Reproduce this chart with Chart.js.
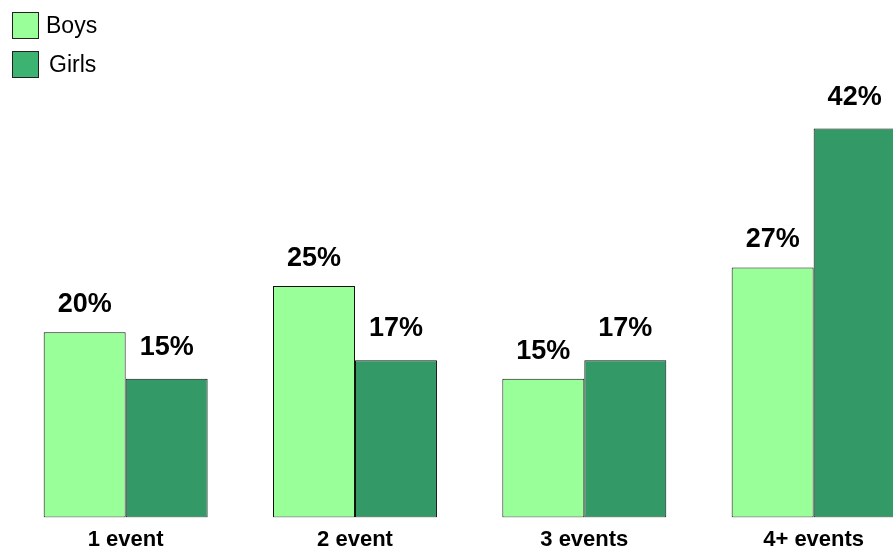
<!DOCTYPE html>
<html>
<head>
<meta charset="utf-8">
<script src="https://cdn.jsdelivr.net/npm/chart.js@4"></script>
<style>
  html, body { margin: 0; padding: 0; background: #fff; overflow: hidden; }
  #wrap { position: relative; width: 893px; height: 553px; overflow: hidden; }
  #box { position: absolute; left: 0; top: 0; width: 940px; height: 553px; }
  #legend { position: absolute; left: 12px; top: 12px; font-family: Arial, "Liberation Sans", sans-serif; font-size: 23px; color: #000; }
  .item { display: flex; align-items: center; height: 27px; margin-bottom: 12px; }
  .swatch { width: 25px; height: 25px; border: 1.5px solid #222; margin-right: 7px; }
</style>
</head>
<body>
<div id="wrap">
  <div id="box"><canvas id="eventsChart"></canvas></div>
  <div id="legend"></div>
</div>
<script>
const categories = ["1 event", "2 event", "3 events", "4+ events"];
const boys = [20, 25, 15, 27];
const girls = [15, 17, 17, 42];
const seriesNames = ["Boys", "Girls"];
const seriesColors = ["#99FF99", "#339966"];
const legendColors = ["#99FF99", "#3CB371"];

document.addEventListener("DOMContentLoaded", function () {
  const canvas = document.getElementById("eventsChart");
  if (!canvas) return;

  // legend built by hand so it can sit in the top-left corner
  const legendEl = document.getElementById("legend");
  seriesNames.forEach(function (name, i) {
    const row = document.createElement("div");
    row.className = "item";
    const sw = document.createElement("span");
    sw.className = "swatch";
    sw.style.background = legendColors[i];
    const txt = document.createElement("span");
    txt.textContent = name;
    if (i === 1) txt.style.marginLeft = "3px";
    row.appendChild(sw);
    row.appendChild(txt);
    legendEl.appendChild(row);
  });

  const valueLabels = {
    id: "valueLabels",
    afterDatasetsDraw: function (chart) {
      const ctx = chart.ctx;
      ctx.save();
      ctx.font = "bold 27px Arial, 'Liberation Sans', sans-serif";
      ctx.fillStyle = "#000";
      ctx.textAlign = "center";
      ctx.textBaseline = "bottom";
      chart.data.datasets.forEach(function (ds, di) {
        const meta = chart.getDatasetMeta(di);
        const gap = di === 0 ? 14 : 18;
        meta.data.forEach(function (bar, i) {
          ctx.fillText(ds.data[i] + "%", bar.x, bar.y - gap);
        });
      });
      ctx.restore();
    },
  };

  new Chart(canvas.getContext("2d"), {
    type: "bar",
    data: {
      labels: categories,
      datasets: [
        {
          label: seriesNames[0],
          data: boys,
          backgroundColor: seriesColors[0],
          borderColor: "#111",
          borderWidth: 1,
          borderSkipped: false,
          categoryPercentage: 0.715,
          barPercentage: 1.0,
        },
        {
          label: seriesNames[1],
          data: girls,
          backgroundColor: seriesColors[1],
          borderColor: "#111",
          borderWidth: 1,
          borderSkipped: false,
          categoryPercentage: 0.715,
          barPercentage: 1.0,
        },
      ],
    },
    options: {
      responsive: true,
      maintainAspectRatio: false,
      animation: false,
      layout: { padding: { left: 11, right: 11.7, top: 54.5, bottom: -9 } },
      plugins: {
        legend: { display: false },
        tooltip: { enabled: false },
      },
      scales: {
        x: {
          grid: { display: false, drawTicks: false, tickLength: 0 },
          border: { display: false },
          ticks: {
            color: "#000",
            padding: 9,
            font: { family: "Arial, 'Liberation Sans', sans-serif", size: 22, weight: "bold" },
          },
        },
        y: {
          display: false,
          min: 0,
          max: 50,
        },
      },
    },
    plugins: [valueLabels],
  });
});
</script>
</body>
</html>
